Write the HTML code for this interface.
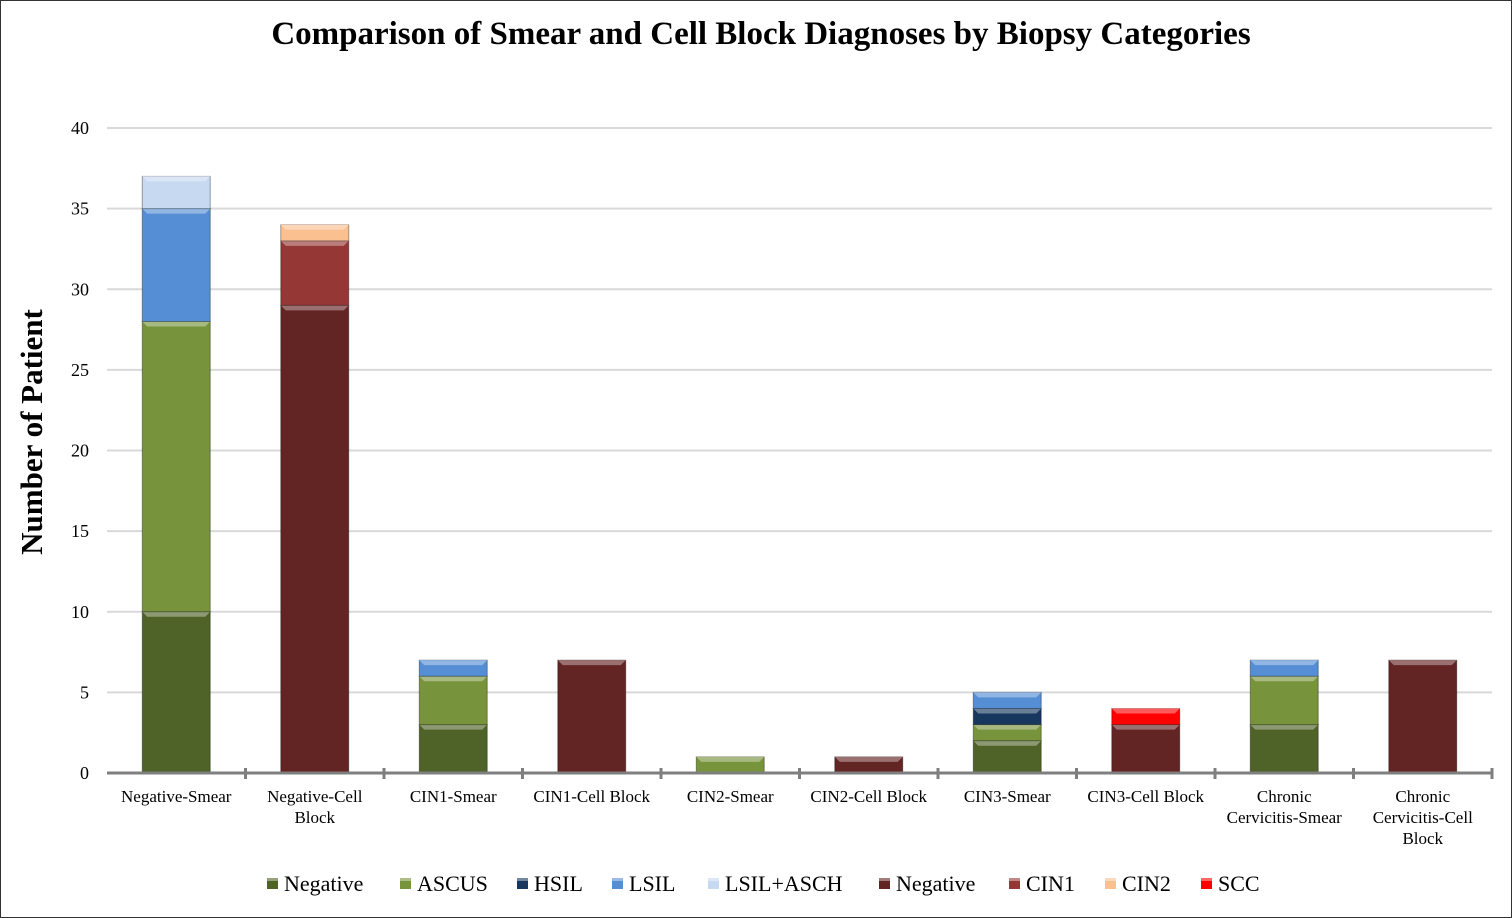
<!DOCTYPE html>
<html><head><meta charset="utf-8"><style>
body{margin:0;background:#fff}
svg{display:block;font-family:"Liberation Serif",serif}
</style></head><body>
<svg id="chart" width="1512" height="918">
<rect x="0.5" y="0.5" width="1511" height="917" fill="#fff" stroke="#333"/>
<text x="761" y="44" font-size="33" font-weight="bold" text-anchor="middle">Comparison of Smear and Cell Block Diagnoses by Biopsy Categories</text>
<text transform="translate(42,432) rotate(-90)" font-size="31" font-weight="bold" text-anchor="middle">Number of Patient</text>
<g id="grid"></g><g id="bars"></g><g id="axis"></g><g id="legend"></g>
</svg>
<script>
const categories=[["Negative-Smear"],["Negative-Cell","Block"],["CIN1-Smear"],["CIN1-Cell Block"],["CIN2-Smear"],["CIN2-Cell Block"],["CIN3-Smear"],["CIN3-Cell Block"],["Chronic","Cervicitis-Smear"],["Chronic","Cervicitis-Cell","Block"]];
const seriesNames=["Negative","ASCUS","HSIL","LSIL","LSIL+ASCH","Negative","CIN1","CIN2","SCC"];
const seriesColors=["#4f6228","#77933c","#17375e","#558ed5","#c6d9f1","#632523","#953735","#fac090","#ff0000"];
const sNegSmear=[10,0,3,0,0,0,2,0,3,0];
const sAscus=[18,0,3,0,1,0,1,0,3,0];
const sHsil=[0,0,0,0,0,0,1,0,0,0];
const sLsil=[7,0,1,0,0,0,1,0,1,0];
const sLsilAsch=[2,0,0,0,0,0,0,0,0,0];
const sNegCB=[0,29,0,7,0,1,0,3,0,7];
const sCin1=[0,4,0,0,0,0,0,0,0,0];
const sCin2=[0,1,0,0,0,0,0,0,0,0];
const sScc=[0,0,0,0,0,0,0,1,0,0];
const yTicks=[0,5,10,15,20,25,30,35,40];
const series=[sNegSmear,sAscus,sHsil,sLsil,sLsilAsch,sNegCB,sCin1,sCin2,sScc];
const NS="http://www.w3.org/2000/svg";
const X0=107,X1=1492,Y0=773,Y40=128,band=(X1-X0)/categories.length,bw=68;
const y=v=>Y0-(Y0-Y40)*v/40;
const xc=i=>X0+band*(i+0.5);
function mk(tag,attrs,parent){const e=document.createElementNS(NS,tag);for(const k in attrs)e.setAttribute(k,attrs[k]);parent.appendChild(e);return e;}
function lighten(c,f){const n=parseInt(c.slice(1),16);let r=n>>16,g=(n>>8)&255,b=n&255;r=Math.round(r+(255-r)*f);g=Math.round(g+(255-g)*f);b=Math.round(b+(255-b)*f);return `rgb(${r},${g},${b})`;}
const grid=document.getElementById('grid'),bars=document.getElementById('bars'),axis=document.getElementById('axis'),legend=document.getElementById('legend');
yTicks.forEach(t=>{
 if(t>0){const l=mk('line',{x1:X0,x2:X1,y1:y(t),y2:y(t),stroke:'#d9d9d9','stroke-width':2},grid);
 
 }
 const tx=mk('text',{x:89,y:y(t)+6,'font-size':18,'text-anchor':'end'},axis);tx.textContent=t;
 
 
});
categories.forEach((cat,i)=>{
 let acc=0;
 series.forEach((s,k)=>{
  const v=s[i];if(!v)return;
  const top=y(acc+v),bot=y(acc),x=xc(i)-bw/2;
  const g=mk('g',{},bars);
  
  
  mk('rect',{x:x,y:top,width:bw,height:bot-top,fill:seriesColors[k],stroke:lighten(seriesColors[k],-0.1)==0?'':'rgba(0,0,0,0.35)','stroke-width':1},g);
  mk('polygon',{points:`${x},${top} ${x+bw},${top} ${x+bw-5},${top+5} ${x+5},${top+5}`,fill:lighten(seriesColors[k],0.35)},g);
  acc+=v;
 });
 const tk=mk('line',{x1:X0+band*(i+1),x2:X0+band*(i+1),y1:Y0-5,y2:Y0+6,stroke:'#7f7f7f','stroke-width':3},axis);
 
 
 cat.forEach((ln,j)=>{const t=mk('text',{x:xc(i),y:802+j*21,'font-size':17,'text-anchor':'middle'},axis);t.textContent=ln;
  
  });
});
const ax=mk('line',{x1:X0,x2:X1,y1:Y0,y2:Y0,stroke:'#7f7f7f','stroke-width':3},axis);


const legX=[267,400,517,612,708,879,1009,1105,1201];
seriesNames.forEach((n,k)=>{
 const g=mk('g',{},legend);
 
 
 mk('rect',{x:legX[k],y:878,width:11,height:11,fill:seriesColors[k]},g);
 mk('rect',{x:legX[k],y:878,width:11,height:3,fill:lighten(seriesColors[k],0.4)},g);
 const t=mk('text',{x:legX[k]+17,y:891,'font-size':22},g);t.textContent=n;
});
</script>
</body></html>
